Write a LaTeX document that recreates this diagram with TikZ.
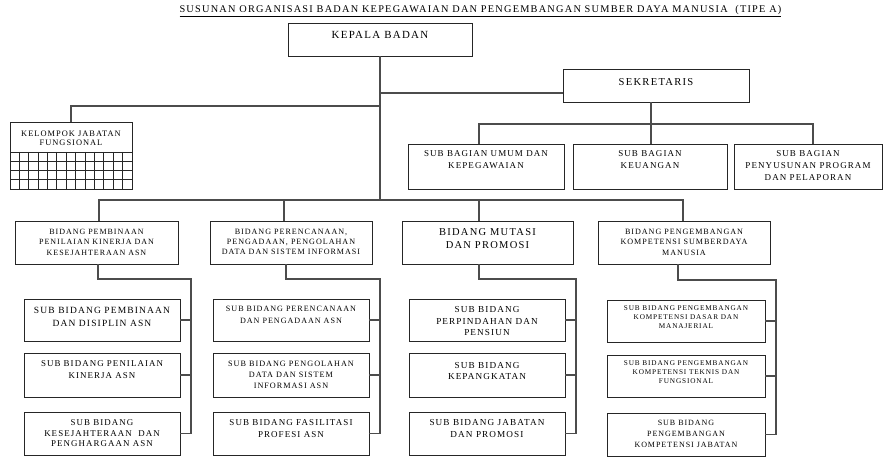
\documentclass[tikz,border=0pt]{standalone}
\usepackage{fontspec}
\setmainfont{Liberation Serif}[LetterSpace=12]
\tikzset{
  box/.style={draw=black!85, line width=0.9pt, fill=white, inner sep=0pt, rectangle},
  txt/.style={align=center, inner sep=0pt, text=black},
  conn/.style={draw=black!70, line width=1.1pt},
  gridl/.style={draw=black!85, line width=0.9pt}
}
% name, x1, y1, x2, y2, size, skip, pad, text
\newcommand\orgbox[9]{%
  \node[box, minimum width={#4-#2}, minimum height={#5-#3}] (#1) at ({(#2+#4)/2},{(#3+#5)/2}) {};
  \node[txt, anchor=north, font=\fontsize{#6}{#7}\selectfont] (#1t) at ([yshift=-#8pt]#1.north) {#9};
}
\begin{document}
\begin{tikzpicture}[x=1pt,y=-1pt]
\useasboundingbox (0,0) rectangle (884,457);
% title
\node[txt, font=\fontsize{10.3}{12}\selectfont] (title) at (480.5,11) {\underline{SUSUNAN ORGANISASI BADAN KEPEGAWAIAN DAN PENGEMBANGAN SUMBER DAYA MANUSIA\ \ (TIPE A)}};

% top level
\orgbox{kepala}{288}{23}{472}{56}{10.9}{12}{8.5}{KEPALA BADAN}
\orgbox{sek}{563}{69}{749}{102}{10.6}{12}{9.5}{SEKRETARIS}
\orgbox{kjf}{10}{122}{132}{189}{8.4}{9.5}{9}{KELOMPOK JABATAN\\FUNGSIONAL}
\foreach \i in {1,...,12} \draw[gridl] ({10+\i*122/13},152) -- ({10+\i*122/13},189);
\foreach \j in {0,1,2,3} \draw[gridl] (10,{152+\j*37/4}) -- (132,{152+\j*37/4});

% sub bagian
\orgbox{sb1}{408}{144}{564}{189}{9}{12}{7}{SUB BAGIAN UMUM DAN\\KEPEGAWAIAN}
\orgbox{sb2}{573}{144}{727}{189}{9}{12}{7}{SUB BAGIAN\\KEUANGAN}
\orgbox{sb3}{734}{144}{882}{189}{9}{12}{7}{SUB BAGIAN\\PENYUSUNAN PROGRAM\\DAN PELAPORAN}

% bidang
\orgbox{b1}{15}{221}{178}{264}{8}{10.5}{8}{BIDANG PEMBINAAN\\PENILAIAN KINERJA DAN\\KESEJAHTERAAN ASN}
\orgbox{b2}{210}{221}{372}{264}{8.1}{10}{8}{BIDANG PERENCANAAN,\\PENGADAAN, PENGOLAHAN\\DATA DAN SISTEM INFORMASI}
\orgbox{b3}{402}{221}{573}{264}{10.5}{13}{8}{BIDANG MUTASI\\DAN PROMOSI}
\orgbox{b4}{598}{221}{770}{264}{8.1}{10.5}{8}{BIDANG PENGEMBANGAN\\KOMPETENSI SUMBERDAYA\\MANUSIA}

% column 1
\orgbox{s11}{24}{299}{180}{341}{9.5}{13}{8}{SUB BIDANG PEMBINAAN\\DAN DISIPLIN ASN}
\orgbox{s12}{24}{353}{180}{397}{8.9}{12}{8}{SUB BIDANG PENILAIAN\\KINERJA ASN}
\orgbox{s13}{24}{412}{180}{455}{8.9}{10.5}{8}{SUB BIDANG\\KESEJAHTERAAN\ \ DAN\\PENGHARGAAN ASN}
% column 2
\orgbox{s21}{213}{299}{369}{341}{8.1}{12}{7}{SUB BIDANG PERENCANAAN\\DAN PENGADAAN ASN}
\orgbox{s22}{213}{353}{369}{397}{8.2}{11}{8}{SUB BIDANG PENGOLAHAN\\DATA DAN SISTEM\\INFORMASI ASN}
\orgbox{s23}{213}{412}{369}{455}{9}{12}{8}{SUB BIDANG FASILITASI\\PROFESI ASN}
% column 3
\orgbox{s31}{409}{299}{565}{341}{9.2}{11.5}{8}{SUB BIDANG\\PERPINDAHAN DAN\\PENSIUN}
\orgbox{s32}{409}{353}{565}{397}{9.2}{11}{10}{SUB BIDANG\\KEPANGKATAN}
\orgbox{s33}{409}{412}{565}{455}{9.2}{12}{8}{SUB BIDANG JABATAN\\DAN PROMOSI}
% column 4
\orgbox{s41}{607}{300}{765}{342}{7.25}{9}{6}{SUB BIDANG PENGEMBANGAN\\KOMPETENSI DASAR DAN\\MANAJERIAL}
\orgbox{s42}{607}{355}{765}{397}{7.25}{9}{6}{SUB BIDANG PENGEMBANGAN\\KOMPETENSI TEKNIS DAN\\FUNGSIONAL}
\orgbox{s43}{607}{413}{765}{456}{8}{11}{7}{SUB BIDANG\\PENGEMBANGAN\\KOMPETENSI JABATAN}

% connectors, top
\coordinate (jk) at (380,106);
\coordinate (js) at (380,93);
\coordinate (bbar) at (380,200);
\coordinate (sbar) at (651,124);
\draw[conn] (kepala.south) -- (bbar);
\draw[conn] (jk) -| (kjf.north);
\draw[conn] (js) -- (js -| sek.west);
\draw[conn] (sek.south -| sbar) -- (sbar);
\draw[conn] ([xshift=-7pt]sb1.north) |- (sbar) -| ([xshift=5pt]sb3.north);
\draw[conn] (sbar) -- (sbar |- sb2.north);
\draw[conn] ([xshift=2.5pt]b1.north) |- (bbar) -| ([xshift=-1pt]b4.north);
\draw[conn] ([xshift=-7pt]b2.north) -- ([xshift=-7pt]b2.north |- bbar);
\draw[conn] ([xshift=-8.5pt]b3.north) -- ([xshift=-8.5pt]b3.north |- bbar);

% connectors, columns
\coordinate (sp1) at (191,279);
\coordinate (sp2) at (380,279);
\coordinate (sp3) at (576,279);
\coordinate (sp4) at (776,280);
\draw[conn] ([xshift=1.5pt]b1.south) |- (sp1) |- (s13.east);
\draw[conn] (s11.east) -- (s11.east -| sp1);
\draw[conn] (s12.east) -- (s12.east -| sp1);
\draw[conn] ([xshift=-5pt]b2.south) |- (sp2) |- (s23.east);
\draw[conn] (s21.east) -- (s21.east -| sp2);
\draw[conn] (s22.east) -- (s22.east -| sp2);
\draw[conn] ([xshift=-8.5pt]b3.south) |- (sp3) |- (s33.east);
\draw[conn] (s31.east) -- (s31.east -| sp3);
\draw[conn] (s32.east) -- (s32.east -| sp3);
\draw[conn] ([xshift=-6pt]b4.south) |- (sp4) |- (s43.east);
\draw[conn] (s41.east) -- (s41.east -| sp4);
\draw[conn] (s42.east) -- (s42.east -| sp4);
\end{tikzpicture}
\end{document}
